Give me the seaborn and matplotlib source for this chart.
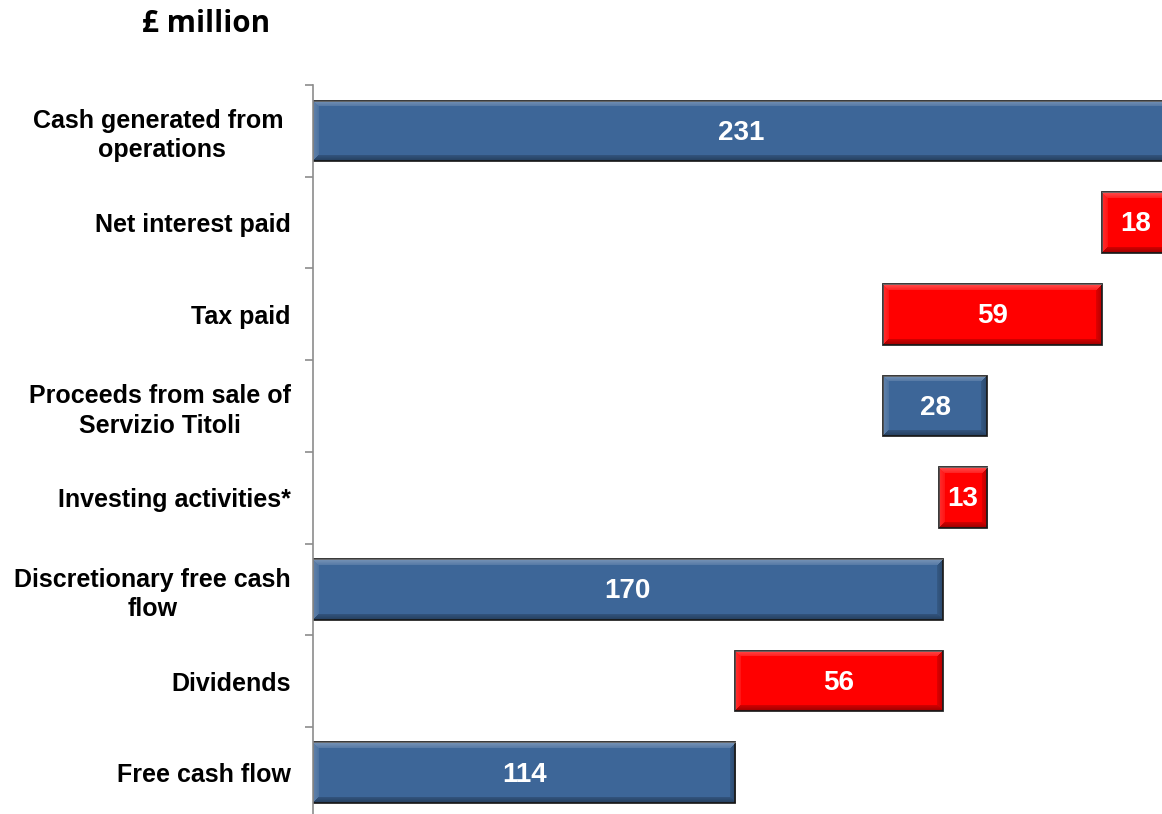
import numpy as np
import pandas as pd
import matplotlib
matplotlib.use("Agg")
import matplotlib.pyplot as plt
import seaborn as sns
from matplotlib.ticker import FixedLocator

# ---- data -------------------------------------------------------------
categories = [
    "Cash generated from \noperations",
    "Net interest paid",
    "Tax paid",
    "Proceeds from sale of\nServizio Titoli",
    "Investing activities*",
    "Discretionary free cash\nflow",
    "Dividends",
    "Free cash flow",
]
amounts = [231, -18, -59, 28, -13, 170, -56, 114]
is_total = [True, False, False, False, False, True, False, True]
value_labels = ["231", "18", "59", "28", "13", "170", "56", "114"]

BLUE = "#3D6698"
RED = "#FF0000"

# ---- waterfall extents ------------------------------------------------
starts, ends, kinds = [], [], []
running = 0
for amt, tot in zip(amounts, is_total):
    if tot:
        s, e = 0, amt
        running = amt
    else:
        s, e = running, running + amt
        running = e
    starts.append(min(s, e))
    ends.append(max(s, e))
    kinds.append("up" if (tot or amt > 0) else "down")

df = pd.DataFrame({
    "category": categories,
    "size": [e - s for s, e in zip(starts, ends)],
    "kind": kinds,
})

# ---- figure -----------------------------------------------------------
sns.set_style("white")
plt.rcParams["font.family"] = ["Liberation Sans", "DejaVu Sans"]
plt.rcParams["text.color"] = "black"

W, H = 1162, 814
fig = plt.figure(figsize=(W / 100, H / 100), dpi=100)
ax_left, ax_top_px, row_px = 313, 85, 91.7
ax = fig.add_axes([ax_left / W, (H - (ax_top_px + 8 * row_px)) / H,
                   (W - ax_left) / W, 8 * row_px / H])

BAR_H = 0.66
sns.barplot(data=df, x="size", y="category", hue="kind",
            palette={"up": BLUE, "down": RED}, dodge=False, width=BAR_H,
            saturation=1, edgecolor="#262626", linewidth=1.3,
            legend=False, ax=ax, orient="h")

# move each bar to its floating start position
bar_patches = [p for p in ax.patches if p.get_width() > 0]
for p in bar_patches:
    idx = int(round(p.get_y() + p.get_height() / 2))
    p.set_x(starts[idx])

XMAX = (W - ax_left) / 3.704
ax.set_xlim(0, XMAX)
ax.set_ylim(7.5, -0.5)

# bevel shading on every bar
px_per_x = (W - ax_left) / XMAX
bev = 6
for p in bar_patches:
    x0, w = p.get_x(), p.get_width()
    yc = p.get_y() + p.get_height() / 2
    nx = max(int(round(w * px_per_x)), 2)
    ny = int(round(BAR_H * row_px))
    r = np.arange(ny)[:, None] * np.ones((1, nx))
    c = np.ones((ny, 1)) * np.arange(nx)[None, :]
    dt, db, dl, dr = r, ny - 1 - r, c, nx - 1 - c
    dist = np.stack([dt, db, dl, dr])
    nearest = dist.argmin(axis=0)
    dmin = dist.min(axis=0)
    over = np.zeros((ny, nx, 4))
    band = dmin < bev
    fade = np.clip(1 - dmin / bev, 0, 1) * 0.6 + 0.4
    # top and left: highlight, bottom and right: shadow
    for k, (col, a) in enumerate([((1, 1, 1), 0.30), ((0, 0, 0), 0.38),
                                  ((1, 1, 1), 0.18), ((0, 0, 0), 0.28)]):
        m = band & (nearest == k)
        over[m, :3] = col
        over[m, 3] = a * fade[m]
    im = ax.imshow(over, extent=(x0, x0 + w, yc + BAR_H / 2, yc - BAR_H / 2),
                   origin="upper", aspect="auto", zorder=p.get_zorder() + 0.1,
                   interpolation="bilinear")
    im.set_clip_path(p)

ax.set_xlim(0, XMAX)
ax.set_ylim(7.5, -0.5)

# value labels
for i, lab in enumerate(value_labels):
    ax.text((starts[i] + ends[i]) / 2, i + 0.02, lab, ha="center", va="center",
            color="white", fontsize=20, fontweight="bold", zorder=5)

# axes styling
ax.xaxis.set_visible(False)
for side in ("top", "right", "bottom"):
    ax.spines[side].set_visible(False)
ax.spines["left"].set_color("#8C8C8C")
ax.spines["left"].set_linewidth(1.2)

ax.yaxis.set_major_locator(FixedLocator(range(len(categories))))
ax.set_yticklabels(categories)
for lbl in ax.get_yticklabels():
    lbl.set_multialignment("center")
    lbl.set_fontsize(18)
    lbl.set_fontweight("bold")
    lbl.set_linespacing(1.27)
ax.yaxis.set_minor_locator(FixedLocator(np.arange(-0.5, len(categories) - 0.5, 1)))
ax.tick_params(axis="y", which="major", length=0, pad=16, labelcolor="black")
ax.tick_params(axis="y", which="minor", length=6, width=1.2, color="#8C8C8C",
               direction="out", left=True)
ax.set_ylabel("")
ax.set_xlabel("")

fig.text(206 / W, 1 - 24 / H, "£ million", ha="center", va="center",
         fontsize=21.3, fontweight="bold", color="black",
         family=["Open Sans", "DejaVu Sans"])

fig.savefig("out.png", dpi=100)
